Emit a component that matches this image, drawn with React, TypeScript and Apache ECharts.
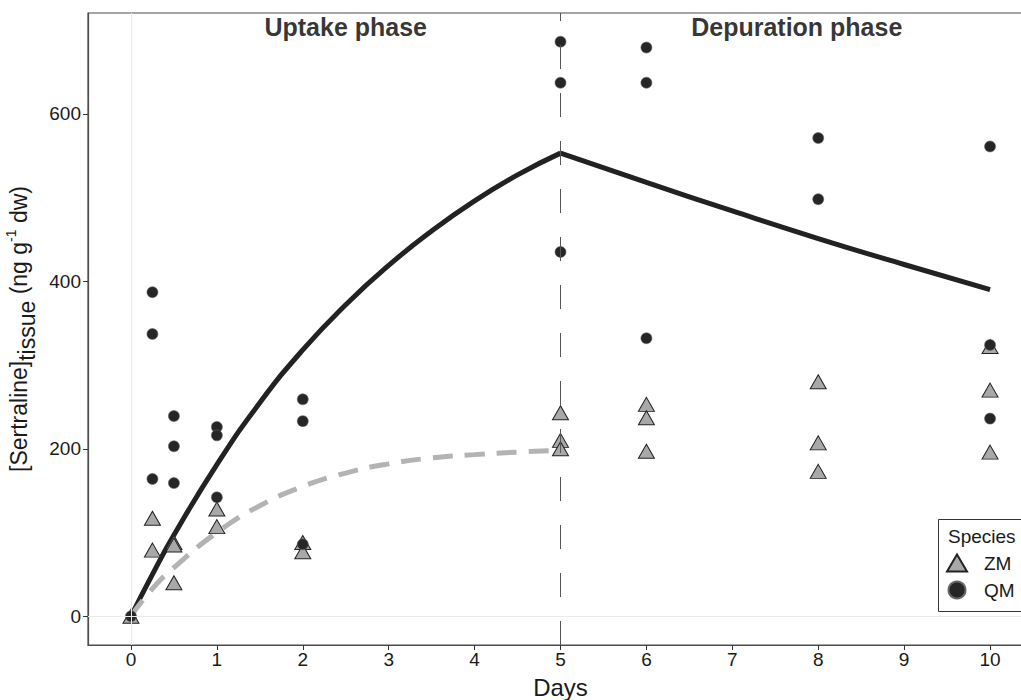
import React, { useEffect, useRef } from "react";
import * as echarts from "echarts";

const FONT = "'Liberation Sans', Arial, sans-serif";

// ZM (triangles) observations
const zmDays = [0, 0.25, 0.25, 0.5, 0.5, 0.5, 1, 1, 2, 2, 5, 5, 5, 6, 6, 6, 8, 8, 8, 10, 10, 10];
const zmValues = [0, 117, 79, 88, 85, 40, 128, 107, 88, 77, 243, 210, 200, 253, 237, 197, 280, 207, 173, 322, 270, 196];

// QM (circles) observations
const qmDays = [0, 0.25, 0.25, 0.25, 0.5, 0.5, 0.5, 1, 1, 1, 2, 2, 2, 5, 5, 5, 6, 6, 6, 8, 8, 10, 10, 10];
const qmValues = [0, 387, 337, 164, 239, 203, 159, 226, 216, 142, 259, 233, 86, 686, 637, 435, 679, 637, 332, 571, 498, 561, 324, 236];

// fitted curves
const uptakeDays = [0, 0.25, 0.5, 1, 1.5, 2, 2.5, 3, 3.5, 4, 4.5, 5];
const qmUptakeValues = [0, 50, 97, 181, 255, 318, 372, 419, 460, 496, 527, 553];
const zmUptakeValues = [0, 33, 58, 100, 132, 155, 171, 182, 189, 193, 196, 198];
const depurationDays = [5, 6, 7, 8, 9, 10];
const qmDepurationValues = [553, 518, 484, 451, 420, 390];

const xTicks = [0, 1, 2, 3, 4, 5, 6, 7, 8, 9, 10];
const yTicks = [0, 200, 400, 600];

const phaseDays = [2.5, 7.75];
const phaseLevel = [704, 704];
const phaseLabels = ["Uptake phase", "Depuration phase"];

const zip = (xs: number[], ys: number[]) => xs.map((x, i) => [x, ys[i]]);

export default function App() {
  const ref = useRef<HTMLDivElement>(null);
  useEffect(() => {
    document.body.style.margin = "0";
    document.body.style.overflow = "hidden";
    const chart = echarts.init(ref.current!, null, { renderer: "svg" });
    const option: any = {
      animation: false,
      backgroundColor: "#ffffff",
      textStyle: { fontFamily: FONT },
      grid: {
        left: 88,
        top: 13,
        bottom: 55,
        right: 12,
        containLabel: false,
        outerBoundsMode: "none",
        show: true,
        borderColor: "#4d4d4d",
        borderWidth: 1.2,
        backgroundColor: "transparent",
      },
      xAxis: {
        type: "value",
        min: -0.5,
        max: 10.5,
        name: "Days",
        nameLocation: "middle",
        nameGap: 30,
        nameTextStyle: { fontSize: 24, color: "#1a1a1a", fontFamily: FONT },
        axisLine: { show: true, onZero: false, lineStyle: { color: "#4d4d4d", width: 1.2 } },
        axisTick: { show: true, length: 5, customValues: xTicks, lineStyle: { color: "#333" } },
        axisLabel: { customValues: xTicks, fontSize: 19, color: "#1a1a1a", margin: 5, fontFamily: FONT },
        splitLine: { show: false },
      },
      yAxis: {
        type: "value",
        min: -34.3,
        max: 720.3,
        name: "{a|[Sertraline]}{b|tissue}{a| (ng g}{c|-1}{a| dw)}",
        nameLocation: "middle",
        nameRotate: 90,
        nameGap: 40,
        nameTextStyle: {
          rich: {
            a: { fontSize: 23, color: "#1a1a1a", fontFamily: FONT, lineHeight: 38, verticalAlign: "middle" },
            b: { fontSize: 23, color: "#1a1a1a", fontFamily: FONT, verticalAlign: "bottom" },
            c: { fontSize: 14, color: "#1a1a1a", fontFamily: FONT, verticalAlign: "top", padding: [4, 0, 0, 0] },
          },
        },
        axisLine: { show: true, onZero: false, lineStyle: { color: "#4d4d4d", width: 1.2 } },
        axisTick: { show: true, length: 5, customValues: yTicks, lineStyle: { color: "#333" } },
        axisLabel: { customValues: yTicks, fontSize: 19, color: "#1a1a1a", margin: 7, fontFamily: FONT },
        splitLine: { show: false },
      },
      legend: {
        orient: "vertical",
        left: 946,
        top: 552,
        padding: 0,
        itemGap: 5,
        itemWidth: 20,
        itemHeight: 17,
        z: 60,
        data: ["ZM", "QM"],
        textStyle: { fontSize: 19, color: "#1a1a1a", fontFamily: FONT, lineHeight: 22, padding: [0, 0, 0, 12] },
      },
      graphic: [
        {
          type: "rect",
          left: 938,
          top: 519,
          z: 10,
          shape: { width: 110, height: 92 },
          style: { fill: "#ffffff", stroke: "#333", lineWidth: 1 },
        },
        {
          type: "text",
          left: 948,
          top: 527,
          z: 11,
          style: { text: "Species", fontSize: 19, fill: "#1a1a1a", fontFamily: FONT },
        },
      ],
      series: [
        {
          type: "line",
          name: "refs",
          data: [],
          silent: true,
          z: 1,
          markLine: {
            silent: true,
            symbol: "none",
            label: { show: false },
            animation: false,
            data: [
              { xAxis: 0, lineStyle: { color: "#ebebeb", width: 1, type: "solid" } },
              { yAxis: 0, lineStyle: { color: "#ebebeb", width: 1, type: "solid" } },
              { xAxis: 5, lineStyle: { color: "#555555", width: 1, type: [24, 24] } },
            ],
          },
        },
        {
          type: "line",
          name: "QM uptake",
          data: zip(uptakeDays, qmUptakeValues),
          smooth: true,
          showSymbol: false,
          lineStyle: { color: "#222222", width: 5 },
          z: 2,
        },
        {
          type: "line",
          name: "QM depuration",
          data: zip(depurationDays, qmDepurationValues),
          smooth: true,
          showSymbol: false,
          lineStyle: { color: "#222222", width: 5 },
          z: 2,
        },
        {
          type: "line",
          name: "ZM uptake",
          data: zip(uptakeDays, zmUptakeValues),
          smooth: true,
          showSymbol: false,
          lineStyle: { color: "#b3b3b3", width: 5, type: [20, 12] },
          z: 2,
        },
        {
          type: "scatter",
          name: "ZM",
          data: zip(zmDays, zmValues),
          symbol: "triangle",
          symbolSize: [16, 14],
          itemStyle: { color: "#a8a8a8", borderColor: "#222", borderWidth: 1, opacity: 1 },
          z: 3,
        },
        {
          type: "scatter",
          name: "QM",
          data: zip(qmDays, qmValues),
          symbol: "circle",
          symbolSize: 11,
          itemStyle: { color: "#262626", borderColor: "#666", borderWidth: 0.6, opacity: 1 },
          z: 4,
        },
        {
          type: "scatter",
          name: "phases",
          data: phaseDays.map((d, i) => ({ value: [d, phaseLevel[i]], name: phaseLabels[i] })),
          symbolSize: 0,
          silent: true,
          label: {
            show: true,
            position: "inside",
            formatter: (p: any) => p.name,
            fontSize: 25,
            fontWeight: "bold",
            color: "#000",
            fontFamily: FONT,
          },
          z: 5,
        },
      ],
    };
    chart.setOption(option);
    return () => chart.dispose();
  }, []);
  return <div ref={ref} style={{ width: 1045, height: 700 }} />;
}
